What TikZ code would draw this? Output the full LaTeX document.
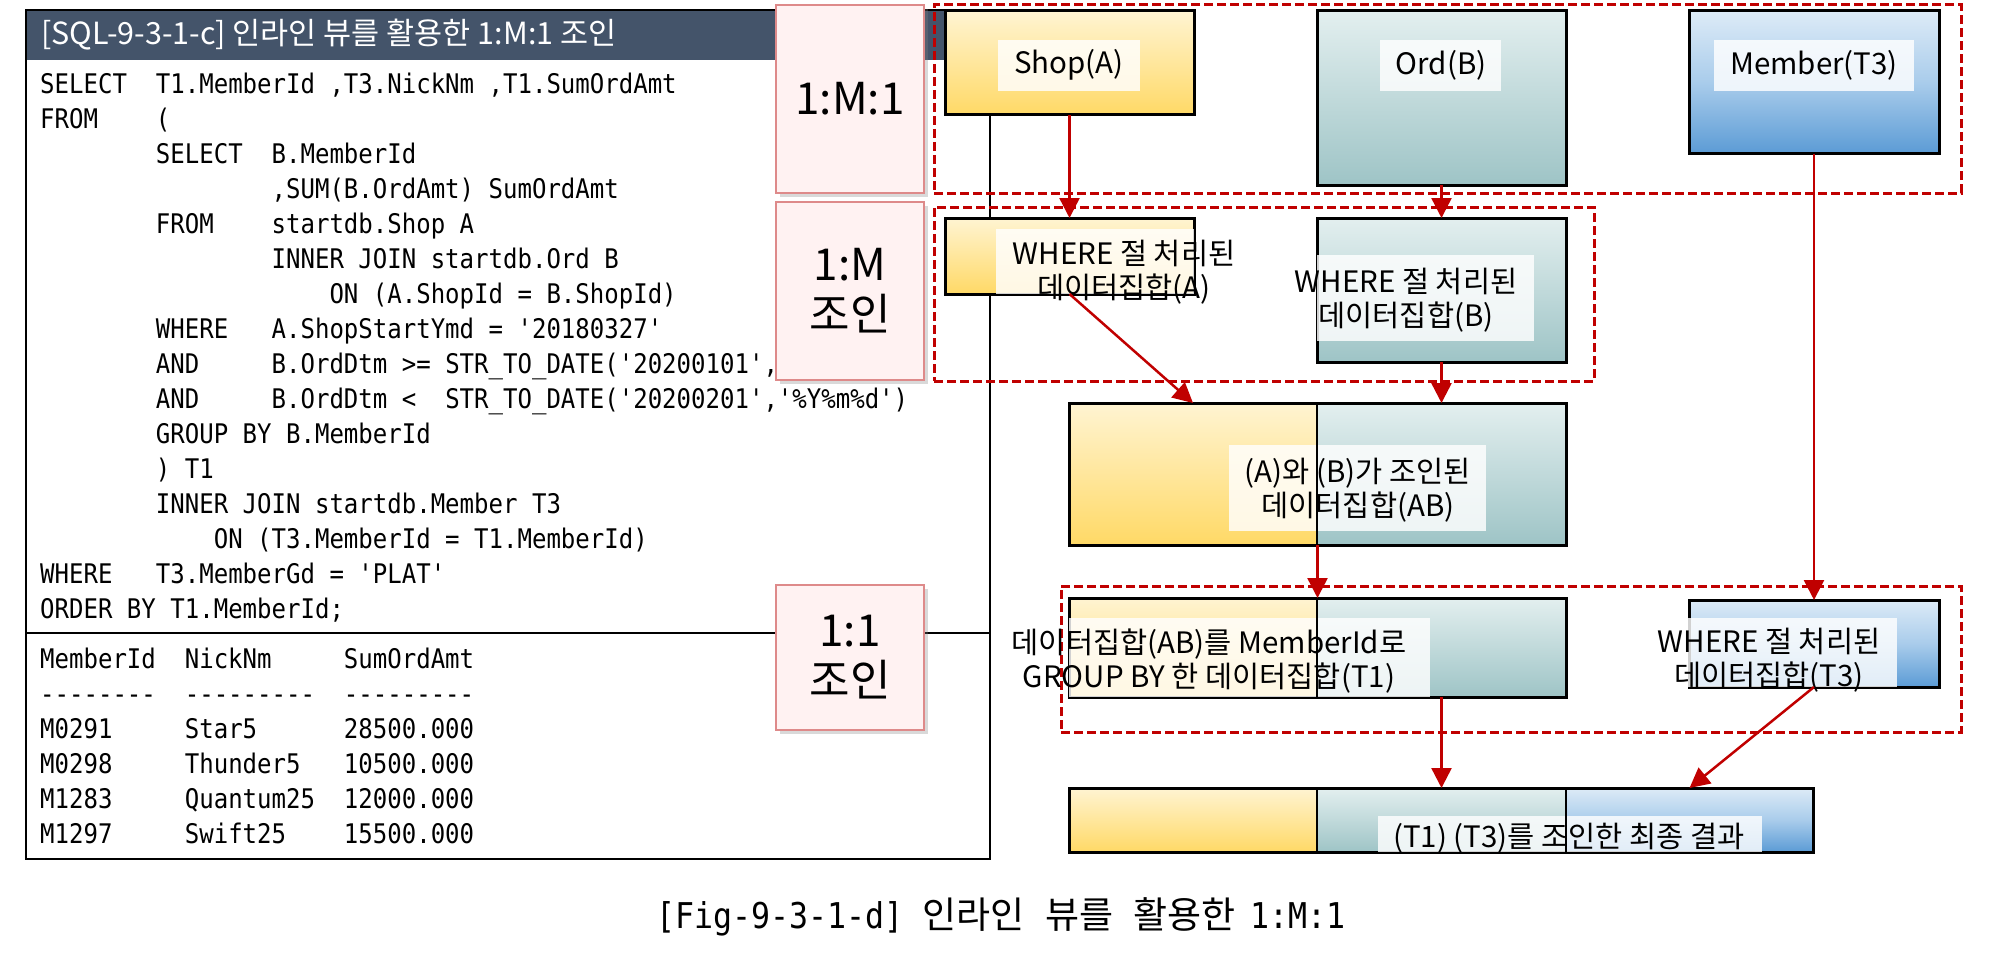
\documentclass[tikz,border=0pt]{standalone}
\usepackage{fontspec}
\setmainfont{Noto Sans CJK KR}
\newfontfamily\kr{Noto Sans CJK KR}
\newfontfamily\codefont[FakeStretch=0.89,Ligatures=TeXOff]{DejaVu Sans Mono}
\usetikzlibrary{shadows,arrows.meta}
\definecolor{hdr}{HTML}{44546A}
\definecolor{dred}{HTML}{C00000}
\definecolor{ytop}{HTML}{FFF4D2}
\definecolor{ybot}{HTML}{FFD966}
\definecolor{ttop}{HTML}{E3EFEF}
\definecolor{tbot}{HTML}{9EC4C6}
\definecolor{btop}{HTML}{DDEBF7}
\definecolor{bmid}{HTML}{A9CCEB}
\definecolor{bbot}{HTML}{5B9BD5}
\definecolor{pinkfill}{HTML}{FFF2F2}
\definecolor{pinkline}{HTML}{DE8A8A}
\newlength\cw
\setlength{\cw}{14.466pt}
\tikzset{
  box/.style={draw=black, line width=3pt, inner sep=0pt, outer sep=0pt, anchor=north west},
  part/.style={inner sep=0pt, outer sep=0pt, anchor=north west},
  ylw/.style={top color=ytop, bottom color=ybot},
  tel/.style={top color=ttop, bottom color=tbot},
  blu/.style={top color=btop, bottom color=bbot, middle color=bmid},
  lblbg/.style={fill=white, fill opacity=0.82},
  lbl/.style={font=\fontsize{29.5}{34}\selectfont, align=center, inner sep=0pt},
  zone/.style={draw=dred, line width=3pt, dash pattern=on 9pt off 4pt, inner sep=0pt, outer sep=0pt, anchor=north west},
  flow/.style={draw=dred, line width=2.5pt, -{Triangle[length=20pt,width=20pt]}},
  tag/.style={draw=pinkline, line width=2pt, fill=pinkfill, align=center,
    font=\fontsize{44}{50}\selectfont, inner sep=0pt, minimum width=148pt,
    drop shadow={shadow xshift=4pt,shadow yshift=-4pt,opacity=0.3}},
  code/.style={font=\codefont\fontsize{27}{35}\selectfont, anchor=base west, inner sep=0pt},
}
\begin{document}
\begin{tikzpicture}[x=1pt,y=-1pt]
\useasboundingbox (0,0) rectangle (2000,963);
% ---- left panel ----
\node[fill=hdr, anchor=north west, minimum width=964pt, minimum height=51pt, inner sep=0pt] (hdrbar) at (25,9) {};
\node[draw=black, line width=2pt, anchor=north west, minimum width=964pt, minimum height=849pt, inner sep=0pt] (panel) at (25,9) {};
\node[anchor=west, text=white, font=\fontsize{30.5}{34}\selectfont, inner sep=0pt] (hdrtxt) at (41,35) {[SQL-9-3-1-c] 인라인 뷰를 활용한 1:M:1 조인};
\coordinate (sepL) at (25,633);
\coordinate (sepR) at (989,633);
\draw[line width=2pt] (sepL) -- (sepR);

\node[code] (c1) at (40,94) {SELECT\ \ T1.MemberId ,T3.NickNm ,T1.SumOrdAmt};
\node[code] (c2) at (40,128.9) {FROM\ \ \ \ (};
\node[code] (c3) at (40,163.9) {\hspace*{8\cw}SELECT\ \ B.MemberId};
\node[code] (c4) at (40,198.8) {\hspace*{16\cw},SUM(B.OrdAmt) SumOrdAmt};
\node[code] (c5) at (40,233.7) {\hspace*{8\cw}FROM\ \ \ \ startdb.Shop A};
\node[code] (c6) at (40,268.7) {\hspace*{16\cw}INNER JOIN startdb.Ord B};
\node[code] (c7) at (40,303.6) {\hspace*{20\cw}ON (A.ShopId = B.ShopId)};
\node[code] (c8) at (40,338.5) {\hspace*{8\cw}WHERE\ \ \ A.ShopStartYmd = '20180327'};
\node[code] (c9) at (40,373.4) {\hspace*{8\cw}AND\ \ \ \ \ B.OrdDtm >= STR\_TO\_DATE('20200101','\%Y\%m\%d')};
\node[code] (c10) at (40,408.4) {\hspace*{8\cw}AND\ \ \ \ \ B.OrdDtm <\ \ STR\_TO\_DATE('20200201','\%Y\%m\%d')};
\node[code] (c11) at (40,443.3) {\hspace*{8\cw}GROUP BY B.MemberId};
\node[code] (c12) at (40,478.2) {\hspace*{8\cw}) T1};
\node[code] (c13) at (40,513.2) {\hspace*{8\cw}INNER JOIN startdb.Member T3};
\node[code] (c14) at (40,548.1) {\hspace*{12\cw}ON (T3.MemberId = T1.MemberId)};
\node[code] (c15) at (40,583.0) {WHERE\ \ \ T3.MemberGd = 'PLAT'};
\node[code] (c16) at (40,618.0) {ORDER BY T1.MemberId;};

\node[code] (r1) at (40,668) {\makebox[10\cw][l]{MemberId}\makebox[11\cw][l]{NickNm}SumOrdAmt};
\node[code] (r2) at (40,703) {\makebox[10\cw][l]{--------}\makebox[11\cw][l]{---------}---------};
\node[code] (r3) at (40,738) {\makebox[10\cw][l]{M0291}\makebox[11\cw][l]{Star5}28500.000};
\node[code] (r4) at (40,773) {\makebox[10\cw][l]{M0298}\makebox[11\cw][l]{Thunder5}10500.000};
\node[code] (r5) at (40,808) {\makebox[10\cw][l]{M1283}\makebox[11\cw][l]{Quantum25}12000.000};
\node[code] (r6) at (40,843) {\makebox[10\cw][l]{M1297}\makebox[11\cw][l]{Swift25}15500.000};

% ---- caption ----
\node[anchor=base, inner sep=0pt] (cap) at (1001,928) {{\codefont\fontsize{35.5}{40}\selectfont [Fig-9-3-1-d] }{\kr\fontsize{37}{40}\selectfont 인라인\hspace{0.55em}뷰를\hspace{0.55em}활용한\hspace{0.4em}}{\codefont\fontsize{35.5}{40}\selectfont 1:M:1}};

% ---- tags ----
\node[tag, minimum height=188pt] (tagA) at (850,99) {1:M:1};
\node[tag, minimum height=178pt] (tagB) at (850,291) {1:M\\조인};
\node[tag, minimum height=145pt] (tagC) at (850,657.5) {1:1\\조인};

% ---- dashed zones ----
\node[zone, minimum width=1027pt, minimum height=188pt] (z1) at (934,5) {};
\node[zone, minimum width=660pt, minimum height=174pt] (z2) at (934,207) {};
\node[zone, minimum width=900pt, minimum height=146pt] (z3) at (1061,586) {};

% ---- boxes ----
\node[box, ylw, minimum width=249pt, minimum height=104pt] (shop) at (945,11) {};
\node[box, tel, minimum width=249pt, minimum height=174pt] (ord) at (1317,11) {};
\node[box, blu, minimum width=250pt, minimum height=143pt] (memb) at (1689,11) {};
\node[box, ylw, minimum width=249pt, minimum height=76pt] (shopw) at (945,218) {};
\node[box, tel, minimum width=249pt, minimum height=144pt] (ordw) at (1317,218) {};

\node[part, ylw, minimum width=248pt, minimum height=142pt] (abA) at (1069,403) {};
\node[part, tel, minimum width=249pt, minimum height=142pt] (abB) at (1317,403) {};
\node[box, minimum width=497pt, minimum height=142pt] (ab) at (1069,403) {};

\node[part, ylw, minimum width=248pt, minimum height=99pt] (t1A) at (1069,598) {};
\node[part, tel, minimum width=249pt, minimum height=99pt] (t1B) at (1317,598) {};
\node[box, minimum width=497pt, minimum height=99pt] (t1) at (1069,598) {};

\node[box, blu, minimum width=250pt, minimum height=87pt] (t3w) at (1689,600) {};

\node[part, ylw, minimum width=248pt, minimum height=64pt] (finA) at (1069,788) {};
\node[part, tel, minimum width=249pt, minimum height=64pt] (finB) at (1317,788) {};
\node[part, blu, minimum width=247pt, minimum height=64pt] (finC) at (1566,788) {};
\node[box, minimum width=744pt, minimum height=64pt] (fin) at (1069,788) {};

% ---- label backgrounds ----
\fill[lblbg] (998,40) rectangle (1140,91);
\fill[lblbg] (1380,40) rectangle (1501,91);
\fill[lblbg] (1714,40) rectangle (1914,91);
\fill[lblbg] (996,229) rectangle (1194,294);
\fill[lblbg] (1317,255) rectangle (1534,341);
\fill[lblbg] (1229,445) rectangle (1486,531);
\fill[lblbg] (1069,618) rectangle (1430,697);
\fill[lblbg] (1688,618) rectangle (1897,687);
\fill[lblbg] (1378,816) rectangle (1762,852);

% ---- dividers ----
\draw[line width=2.5pt] (abA.north east) -- (abA.south east);
\draw[line width=2.5pt] (t1A.north east) -- (t1A.south east);
\draw[line width=2.5pt] (finA.north east) -- (finA.south east);
\draw[line width=2.5pt] (finB.north east) -- (finB.south east);

% ---- labels ----
\node[lbl] (shopT) at (1069,65) {Shop(A)};
\node[lbl] (ordT) at (1441,65) {Ord(B)};
\node[lbl] (membT) at (1814,65) {Member(T3)};
\node[lbl] (shopwT) at (1124,272) {WHERE 절 처리된\\데이터집합(A)};
\node[lbl] (ordwT) at (1406,300) {WHERE 절 처리된\\데이터집합(B)};
\node[lbl] (abT) at (1358,490) {(A)와 (B)가 조인된\\데이터집합(AB)};
\node[lbl] (t1T) at (1209,661) {데이터집합(AB)를 MemberId로\\GROUP BY 한 데이터집합(T1)};
\node[lbl] (t3T) at (1769,660) {WHERE 절 처리된\\데이터집합(T3)};
\node[lbl] (finT) at (1569,838) {(T1) (T3)를 조인한 최종 결과};

% ---- arrows ----
\draw[flow] (shop.south) -- (shopw.north);
\draw[flow] (ord.south) -- (ordw.north);
\draw[flow] (memb.south) -- (t3w.north);
\draw[flow] (shopw.south) -- (abA.north);
\draw[flow] (ordw.south) -- (abB.north);
\draw[flow] (ab.south) -- (t1.north);
\draw[flow] (t1B.south) -- (finB.north);
\draw[flow] (t3w.south) -- (finC.north);
\end{tikzpicture}
\end{document}
